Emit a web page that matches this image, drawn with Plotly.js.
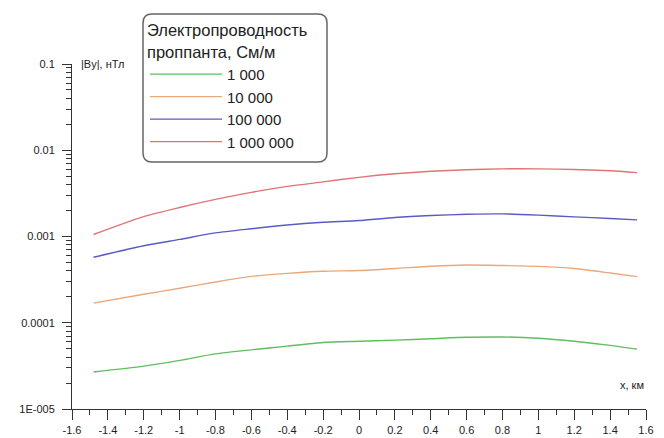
<!DOCTYPE html>
<html><head><meta charset="utf-8">
<script src="https://cdn.plot.ly/plotly-3.0.1.min.js"></script>
<style>html,body{margin:0;padding:0;background:#fff}#chart{width:664px;height:438px}</style>
</head><body><div id="chart"></div>
<script>
const xKm = [-1.48, -1.2, -1.0, -0.8, -0.6, -0.4, -0.2, 0, 0.2, 0.4, 0.6, 0.8, 1.0, 1.2, 1.4, 1.55];
const by1000 = [2.69e-5, 3.14e-5, 3.66e-5, 4.36e-5, 4.85e-5, 5.36e-5, 5.90e-5, 6.10e-5, 6.29e-5, 6.52e-5, 6.78e-5, 6.84e-5, 6.61e-5, 6.10e-5, 5.47e-5, 4.94e-5];
const by10000 = [1.69e-4, 2.14e-4, 2.51e-4, 2.97e-4, 3.45e-4, 3.74e-4, 3.95e-4, 4.03e-4, 4.25e-4, 4.52e-4, 4.67e-4, 4.61e-4, 4.50e-4, 4.25e-4, 3.77e-4, 3.43e-4];
const by100000 = [5.74e-4, 7.80e-4, 9.25e-4, 1.10e-3, 1.23e-3, 1.36e-3, 1.46e-3, 1.53e-3, 1.66e-3, 1.75e-3, 1.81e-3, 1.83e-3, 1.77e-3, 1.69e-3, 1.62e-3, 1.56e-3];
const by1000000 = [1.055e-3, 1.70e-3, 2.17e-3, 2.69e-3, 3.25e-3, 3.81e-3, 4.30e-3, 4.85e-3, 5.33e-3, 5.70e-3, 5.94e-3, 6.09e-3, 6.09e-3, 5.97e-3, 5.78e-3, 5.51e-3];
const seriesNames = ['1 000', '10 000', '100 000', '1 000 000'];
const xTickVals = [-1.6, -1.4, -1.2, -1, -0.8, -0.6, -0.4, -0.2, 0, 0.2, 0.4, 0.6, 0.8, 1, 1.2, 1.4, 1.6];
const xTickText = ['-1.6', '-1.4', '-1.2', '-1', '-0.8', '-0.6', '-0.4', '-0.2', '0', '0.2', '0.4', '0.6', '0.8', '1', '1.2', '1.4', '1.6'];
const yTickVals = [1e-5, 1e-4, 1e-3, 1e-2, 1e-1];
const yTickText = ['1E-005', '0.0001', '0.001', '0.01', '0.1'];

const colors = ['#5fbf5f', '#eba878', '#5a5ac4', '#e07474'];
const font = 'Liberation Sans, Arial, sans-serif';
const ys = [by1000, by10000, by100000, by1000000];
const traces = ys.map((y, i) => ({
  x: xKm, y: y, type: 'scatter', mode: 'lines', name: seriesNames[i],
  line: {color: colors[i], width: 1.4, shape: 'spline', smoothing: 0.7}
}));

// rounded legend frame in paper coords
const W = 574, H = 345;
const bx0 = (143 - 72) / W, bx1 = (327 - 72) / W, by0 = (409 - 162) / H, by1 = (409 - 14) / H;
const rx = 9 / W, ry = 9 / H;
const framePath = `M${bx0+rx},${by1} L${bx1-rx},${by1} Q${bx1},${by1} ${bx1},${by1-ry} L${bx1},${by0+ry} Q${bx1},${by0} ${bx1-rx},${by0} L${bx0+rx},${by0} Q${bx0},${by0} ${bx0},${by0+ry} L${bx0},${by1-ry} Q${bx0},${by1} ${bx0+rx},${by1} Z`;

const layout = {
  width: 664, height: 438,
  margin: {l: 72, r: 18, t: 64, b: 29},
  paper_bgcolor: '#fff', plot_bgcolor: '#fff',
  font: {family: font, size: 11, color: '#222'},
  showlegend: true,
  legend: {
    x: bx0 + 2 / W, y: by1 - 1 / H, xanchor: 'left', yanchor: 'top',
    bgcolor: 'rgba(0,0,0,0)', borderwidth: 0,
    font: {family: font, size: 15, color: '#222'},
    title: {text: 'Электропроводность<br>проппанта, См/м', font: {family: font, size: 16.5, color: '#222'}},
    itemwidth: 72, tracegroupgap: 0
  },
  xaxis: {
    range: [-1.6, 1.6], tickmode: 'array', tickvals: xTickVals, ticktext: xTickText,
    showline: true, linecolor: '#333', linewidth: 1, ticks: 'outside', ticklen: 10, tickcolor: '#333',
    showgrid: false, zeroline: false, tickfont: {size: 11, family: font}, ticklabelstandoff: 1,
    minor: {dtick: 0.1, ticks: 'outside', ticklen: 5, tickcolor: '#333'}
  },
  yaxis: {
    type: 'log', range: [-5, -1], tickmode: 'array', tickvals: yTickVals, ticktext: yTickText,
    showline: true, linecolor: '#333', linewidth: 1, ticks: 'outside', ticklen: 9, tickcolor: '#333',
    showgrid: false, zeroline: false, tickfont: {size: 11, family: font}, ticklabelstandoff: 5,
    minor: {dtick: 'D1', ticks: 'outside', ticklen: 5, tickcolor: '#333'}
  },
  shapes: [{type: 'path', xref: 'paper', yref: 'paper', path: framePath, line: {color: '#666', width: 1.5}, fillcolor: 'rgba(0,0,0,0)'}],
  annotations: [
    {text: '|By|, нТл', xref: 'paper', yref: 'paper', x: 7 / W, y: 1, xanchor: 'left', yanchor: 'middle', showarrow: false, font: {size: 11, family: font, color: '#222'}},
    {text: 'x, км', xref: 'paper', yref: 'paper', x: 1, y: 24 / H, xanchor: 'right', yanchor: 'middle', showarrow: false, font: {size: 11, family: font, color: '#222'}}
  ]
};
Plotly.newPlot('chart', traces, layout, {displayModeBar: false, staticPlot: true});
</script></body></html>
